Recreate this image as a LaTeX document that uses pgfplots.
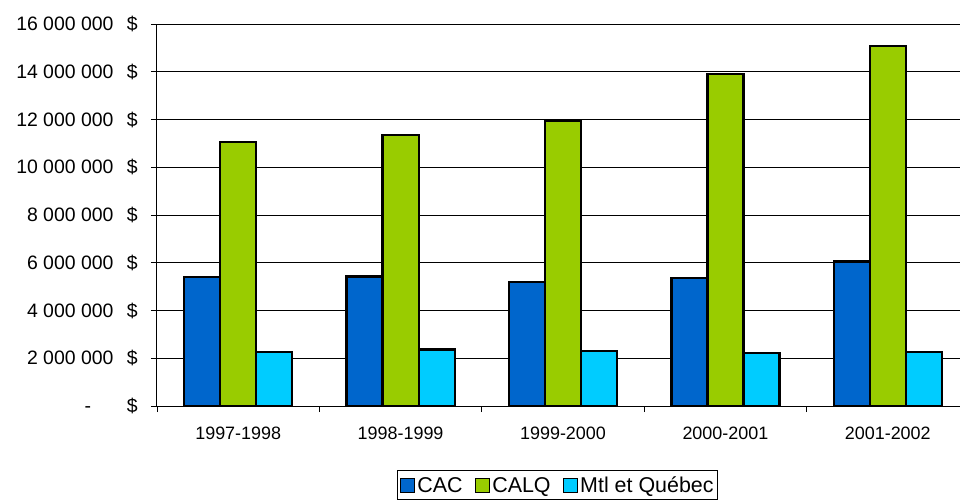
\documentclass[border=0pt]{standalone}
\usepackage{fontspec}
\setmainfont{Liberation Sans}
\usepackage{pgfplots}
\pgfplotsset{compat=1.18}
\definecolor{cac}{HTML}{0066CC}
\definecolor{calq}{HTML}{99CC00}
\definecolor{mtl}{HTML}{00CCFF}
\pgfplotsset{sqlegend/.style={legend image code/.code={\draw[##1,line width=1.6bp,draw=black] (0bp,-7bp) rectangle (14bp,7bp);}}}
\begin{document}
\begin{tikzpicture}
\useasboundingbox (-157bp,-94bp) rectangle (803bp,406bp);
\begin{axis}[
  anchor=south west,
  scale only axis, width=812bp, height=382bp,
  xmin=-0.5, xmax=4.5,
  ymin=0, ymax=16000000,
  scaled y ticks=false,
  axis lines=left,
  axis line style={-, black, line width=1bp},
  tick align=outside,
  major tick length=6bp,
  tick style={black, line width=0.8bp},
  ytick={0,2000000,4000000,6000000,8000000,10000000,12000000,14000000,16000000},
  yticklabels={{-\hspace{36bp}\$},{2~000~000\hspace{13.5bp}\$},{4~000~000\hspace{13.5bp}\$},{6~000~000\hspace{13.5bp}\$},{8~000~000\hspace{13.5bp}\$},{10~000~000\hspace{13.5bp}\$},{12~000~000\hspace{13.5bp}\$},{14~000~000\hspace{13.5bp}\$},{16~000~000\hspace{13.5bp}\$}},
  yticklabel style={font=\fontsize{19.5}{22}\selectfont, inner sep=0pt, anchor=east},
  yticklabel shift=13bp,
  ymajorgrids,
  major grid style={black, line width=0.8bp},
  xtick={-0.5,0.5,1.5,2.5,3.5,4.5},
  xticklabels={},
  extra x ticks={0,1,2,3,4},
  extra x tick labels={1997-1998,1998-1999,1999-2000,2000-2001,2001-2002},
  extra x tick style={major tick length=0pt, grid=none, xticklabel style={font=\fontsize{18}{21}\selectfont, inner sep=0pt, anchor=north, yshift=-21bp}},
  legend columns=3,
  legend style={at={(0.4935,-0.168)}, anchor=north, draw=black, line width=1bp,
    font=\fontsize{21.5}{24}\selectfont, inner xsep=2bp, inner ysep=4bp,
    /tikz/every even column/.append style={column sep=10bp}},
  legend cell align=left,
]
\addplot[ybar, bar width=36bp, bar shift=-36bp, fill=cac, draw=black, line width=2.2bp, sqlegend]
  coordinates {(0,5390000) (1,5420000) (2,5190000) (3,5350000) (4,6050000)};
\addplot[ybar, bar width=36bp, bar shift=0bp, fill=calq, draw=black, line width=2.2bp, sqlegend]
  coordinates {(0,11070000) (1,11350000) (2,11940000) (3,13910000) (4,15080000)};
\addplot[ybar, bar width=36bp, bar shift=36bp, fill=mtl, draw=black, line width=2.2bp, sqlegend]
  coordinates {(0,2250000) (1,2370000) (2,2320000) (3,2220000) (4,2270000)};
\legend{CAC,CALQ,Mtl et Québec}
\end{axis}
\end{tikzpicture}
\end{document}
